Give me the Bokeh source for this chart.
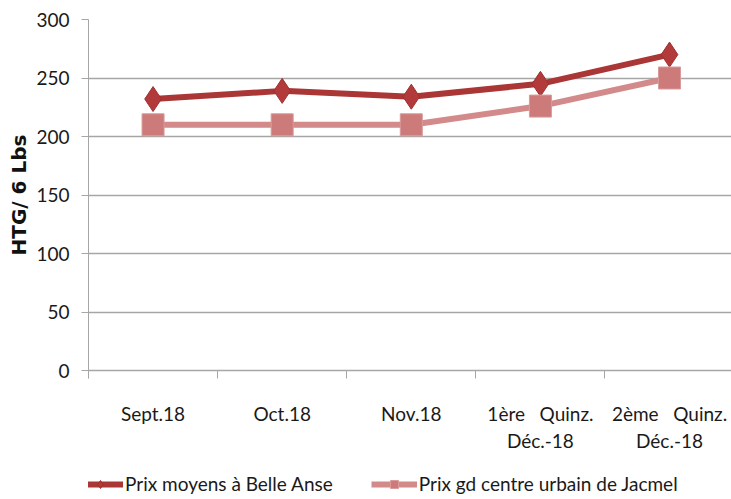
from bokeh.plotting import figure
from bokeh.models import Range1d, FixedTicker, Legend, LegendItem, Title
from bokeh.embed import file_html
from bokeh.resources import INLINE

categories = ["Sept.18", "Oct.18", "Nov.18",
              "1ère \u00a0 Quinz.\nDéc.-18", "2ème \u00a0 Quinz.\nDéc.-18"]
belle_anse = [232, 239, 234, 245, 270]
jacmel = [210, 210, 210, 226, 250]
y_ticks = [0, 50, 100, 150, 200, 250, 300]

FONT = "Lato"
DARK = "#AA3636"
LIGHT = "#D38A8A"
GRID = "#A6A6A6"

xs = [i + 0.5 for i in range(len(categories))]

# frame spans the full height below the top border; the value axis covers 0..300 (351 px)
Y_MIN = -300 * 129 / 351

p = figure(width=731, height=499, output_backend="svg", toolbar_location=None,
           x_range=Range1d(0, 4.98), y_range=Range1d(Y_MIN, 300),
           min_border_left=88, min_border_right=0, min_border_top=19, min_border_bottom=0)
p.outline_line_color = None
p.background_fill_color = "white"

p.xgrid.grid_line_color = None
p.ygrid.grid_line_color = GRID
p.ygrid.grid_line_width = 1.3
p.ygrid.ticker = FixedTicker(ticks=y_ticks)

p.yaxis.ticker = FixedTicker(ticks=y_ticks)
p.yaxis.bounds = (-7, 300)
p.yaxis.axis_line_color = GRID
p.yaxis.major_tick_line_color = GRID
p.yaxis.major_tick_out = 7
p.yaxis.major_tick_in = 0
p.yaxis.minor_tick_line_color = None
p.yaxis.major_label_text_font = FONT
p.yaxis.major_label_text_font_size = "19px"
p.yaxis.major_label_text_color = "#1a1a1a"
p.yaxis.major_label_standoff = 12

ylabel = Title(text="HTG/ 6 Lbs", align="left", offset=244, standoff=6,
               text_font="DejaVu Sans", text_font_style="bold", text_font_size="20px",
               text_color="#111111")
p.add_layout(ylabel, "left")

p.xaxis.fixed_location = 0
p.xaxis.ticker = FixedTicker(ticks=xs, minor_ticks=[0, 1, 2, 3, 4])
p.xaxis.major_label_overrides = {x: c for x, c in zip(xs, categories)}
p.xaxis.axis_line_color = GRID
p.xaxis.major_tick_line_color = None
p.xaxis.minor_tick_line_color = GRID
p.xaxis.minor_tick_out = 8
p.xaxis.minor_tick_in = 0
p.xaxis.major_label_text_font = FONT
p.xaxis.major_label_text_font_size = "19px"
p.xaxis.major_label_text_color = "#1a1a1a"
p.xaxis.major_label_standoff = 23

l1 = p.line(xs, belle_anse, line_color=DARK, line_width=6)
m1 = p.scatter(xs, belle_anse, marker="diamond", size=25, fill_color="#B33A3A", line_color="#A03030")
l2 = p.line(xs, jacmel, line_color=LIGHT, line_width=6)
m2 = p.scatter(xs, jacmel, marker="square", size=22, fill_color="#CC7A7A", line_color="#D99A9A")

legend = Legend(items=[LegendItem(label="Prix moyens à Belle Anse", renderers=[l1, m1]),
                       LegendItem(label="Prix gd centre urbain de Jacmel", renderers=[l2, m2])],
                orientation="horizontal", location=(-11, 4),
                label_text_font=FONT, label_text_font_size="19px", label_text_color="#1a1a1a",
                glyph_width=46, glyph_height=20, spacing=38, label_standoff=2,
                border_line_color=None, background_fill_alpha=0, padding=0, margin=0)
p.add_layout(legend, "center")

open("out.html", "w").write(file_html(p, INLINE))
